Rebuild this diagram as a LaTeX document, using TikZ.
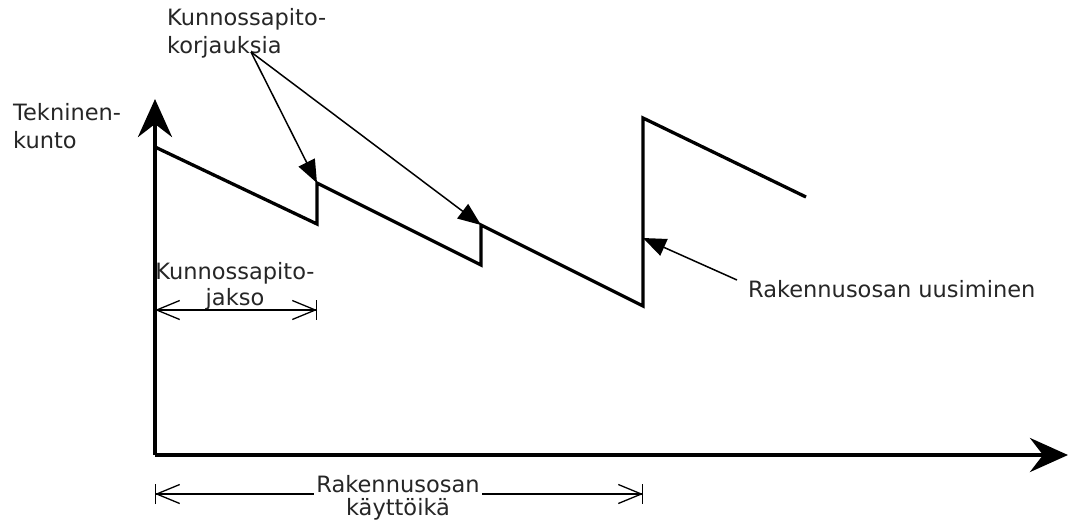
\documentclass[tikz,border=0pt]{standalone}
\usepackage{fontspec}
\setmainfont{DejaVu Sans}
\usetikzlibrary{arrows.meta}
\begin{document}
\begin{tikzpicture}[x=1pt,y=-1pt,
  txt/.style={inner sep=0pt,text=black!85,font=\fontsize{22.5}{28}\selectfont},
  axis/.style={line width=4.5pt,-{Stealth[length=38pt,width=34pt,inset=13pt]}},
  curve/.style={line width=3.3pt,line join=miter},
  callout/.style={line width=1.5pt,-{Triangle[length=23pt,width=18pt]}},
  dimarrow/.style={line width=1.3pt,{Straight Barb[length=23pt,width=19pt]}-{Straight Barb[length=23pt,width=19pt]}},
  dimbar/.style={line width=1.3pt,{Bar[width=20pt]}-{Bar[width=20pt]}}]
\useasboundingbox (0,0) rectangle (1069,523);
% axes
\coordinate (O) at (155,455);
\coordinate (ytip) at (155,99);
\coordinate (xtip) at (1068,455);
\draw[axis] (O) -- (ytip);
\draw[axis] (O) -- (xtip);
% sawtooth
\coordinate (s0) at (155,147);
\coordinate (b1) at (317,224);
\coordinate (t1) at (317,183);
\coordinate (b2) at (481,265);
\coordinate (t2) at (481,225);
\coordinate (b3) at (643,306);
\coordinate (r3) at (643,238);
\coordinate (t3) at (643,118);
\coordinate (e4) at (806,197);
\draw[curve] (s0) -- (b1) -- (t1) -- (b2) -- (t2) -- (b3) -- (t3) -- (e4);
% labels
\node[txt,align=left,anchor=north west] (tek) at (13,103) {Tekninen-\\kunto};
\node[txt,align=left,anchor=north west] (korj) at (167,8) {Kunnossapito-\\korjauksia};
\coordinate (kk) at (251,52);
\draw[callout] (kk) -- (t1);
\draw[callout] (kk) -- (t2);
\node[txt,anchor=base west] (uus) at (748,297) {Rakennusosan uusiminen};
\coordinate (uu) at (737,280);
\draw[callout] (uu) -- (r3);
% maintenance period
\node[txt,align=center,anchor=north,font=\fontsize{22.5}{26}\selectfont] (jakso) at (235,262) {Kunnossapito-\\jakso};
\coordinate (j1) at (155,310);
\coordinate (j2) at (317,310);
\draw[dimarrow] (j1) -- (j2);
\draw[dimbar] (j1) -- (j2);
% service life
\coordinate (k1) at (155,494);
\coordinate (k2) at (643,494);
\draw[dimarrow] (k1) -- (k2);
\draw[dimbar] (k1) -- (k2);
\node[txt,align=center,anchor=north,fill=white,inner xsep=2pt,font=\fontsize{22.5}{23}\selectfont] (life) at (398,475) {Rakennusosan\\käyttöikä};
\end{tikzpicture}
\end{document}
